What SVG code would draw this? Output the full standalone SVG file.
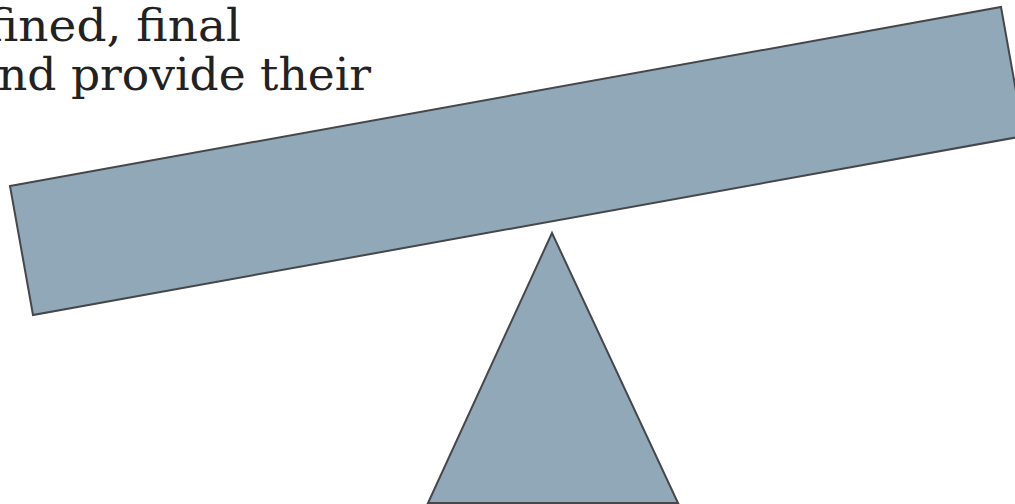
<svg xmlns="http://www.w3.org/2000/svg" width="1015" height="504" viewBox="0 0 1015 504">
<style>
.shape{fill:#91a8b8;stroke:#45474b;stroke-width:2;stroke-linejoin:miter}
.t{font-family:"DejaVu Serif","Liberation Serif",serif;font-size:44px;fill:#222222}
</style>
<rect width="1015" height="504" fill="#ffffff"/>
<g id="text">
<text class="t" x="-13" y="41" textLength="254" lengthAdjust="spacingAndGlyphs">fined, final</text>
<text class="t" x="-2" y="90" textLength="373" lengthAdjust="spacingAndGlyphs">nd provide their</text>
</g>
<g id="beam">
<polygon class="shape" points="10,186 1001,7 1024,136 33,315"/>
</g>
<g id="fulcrum">
<polygon class="shape" points="552,233 678,503 428,503"/>
</g>
</svg>
